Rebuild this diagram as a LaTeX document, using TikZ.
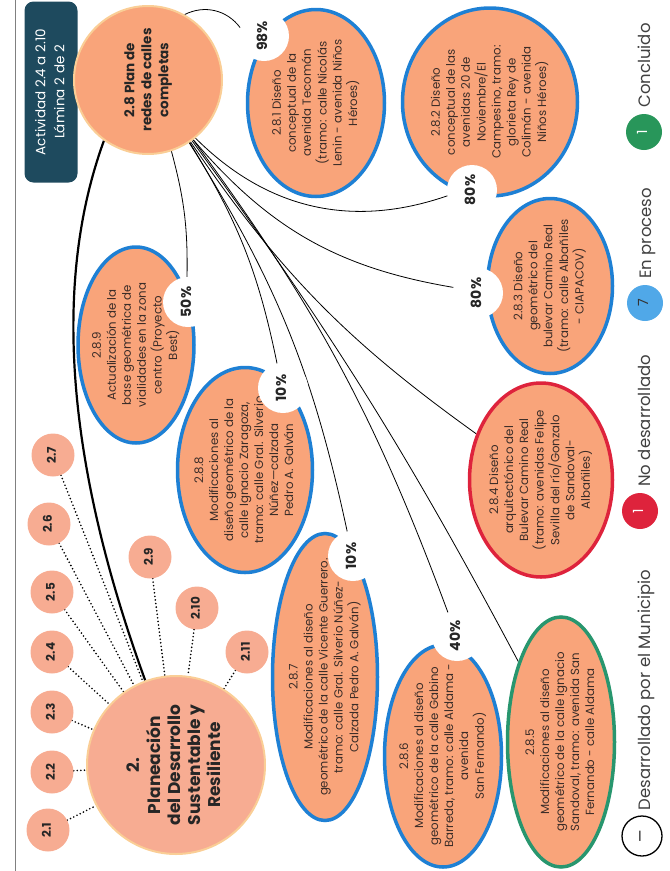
\documentclass[tikz,border=0pt]{standalone}
\usepackage{fontspec}
\setmainfont{Poppins}
\usepackage{graphicx}
\usetikzlibrary{positioning,shapes.geometric,backgrounds}

\definecolor{fillorange}{RGB}{249,164,122}
\definecolor{fillpink}{RGB}{247,172,146}
\definecolor{rimyellow}{RGB}{250,206,150}
\definecolor{rimblue}{RGB}{30,128,212}
\definecolor{rimred}{RGB}{222,35,60}
\definecolor{rimgreen}{RGB}{40,150,110}
\definecolor{boxteal}{RGB}{30,74,94}
\definecolor{legblue}{RGB}{80,168,232}
\definecolor{leggreen}{RGB}{40,150,90}
\definecolor{inkgray}{RGB}{60,45,40}

% rotated, centred block of lines
\newcommand{\rtext}[1]{\rotatebox{90}{\begin{tabular}{@{}c@{}}#1\end{tabular}}}

\tikzset{
  hub/.style={circle, fill=fillorange, draw=rimyellow, line width=2pt, inner sep=0pt, text=black!85},
  subc/.style={circle, fill=fillpink, minimum size=43pt, inner sep=0pt, text=black!85, font=\bfseries\fontsize{12}{14}\selectfont},
  task/.style={ellipse, fill=fillorange, line width=3.5pt, inner sep=0pt},
  tasktext/.style={inner sep=0pt, text=inkgray, font=\fontsize{11.8}{15}\selectfont},
  pct/.style={circle, fill=white, minimum size=50pt, inner sep=0pt, text=black!85, font=\bfseries\fontsize{14}{16}\selectfont},
  link/.style={line width=0.8pt},
  dotline/.style={line width=1.8pt, dash pattern=on 0pt off 3.6pt, line cap=round},
  titlebox/.style={rectangle, rounded corners=9pt, fill=boxteal, text=white, minimum width=53pt, minimum height=181pt, font=\fontsize{13.5}{19}\selectfont},
  legc/.style={circle, minimum size=36pt, inner sep=0pt, font=\fontsize{14}{16}\selectfont},
  legt/.style={inner sep=0pt, text=black!75, font=\fontsize{16.5}{19}\selectfont}
}

\begin{document}
\begin{tikzpicture}[x=1pt, y=1pt]
\useasboundingbox (0,0) rectangle (670,-871);
% page rule
\draw[gray, line width=0.8pt] (15,0) -- (15,-871);

% sheet title
\node[titlebox] (title) at (51,-92) {\rtext{Actividad 2.4 a 2.10\\Lámina 2 de 2}};

% the two hubs
\node[hub, minimum size=148pt, font=\bfseries\fontsize{13.5}{17}\selectfont] (plan) at (148,-80) {\rtext{2.8 Plan de\\redes de calles\\completas}};
\node[hub, minimum size=178pt, fill=fillpink, font=\bfseries\fontsize{17}{20}\selectfont] (dev) at (176,-765) {\rtext{2.\\Planeación\\del Desarrollo\\Sustentable y\\Resiliente}};

% other lines of action
\foreach \n/\x/\y in {1/48/830, 2/52/772, 3/52/712, 4/52/652, 5/52/592, 6/49/524, 7/53/455, 9/150/557, 10/197/608, 11/247/652}
  \node[subc] (s2\n) at (\x,-\y) {\rtext{2.\n}};

% tasks of 2.8
\node[task, draw=rimblue, minimum width=137pt, minimum height=187pt,
  label={[tasktext]center:{\rtext{2.8.1 Diseño\\conceptual de la\\avenida Tecomán\\(tramo: calle Nicolás\\Lenin - avenida Niños\\Héroes)}}}] (e281) at (316,-103) {};
\node[task, draw=rimblue, minimum width=175pt, minimum height=188pt,
  label={[tasktext]center:{\rtext{2.8.2 Diseño\\conceptual de las\\avenidas 20 de\\Noviembre/El\\Campesino, tramo:\\glorieta Rey de\\Colimán - avenida\\Niños Héroes)}}}] (e282) at (490,-102) {};
\node[task, draw=rimblue, minimum width=125pt, minimum height=175pt,
  label={[tasktext]center:{\rtext{2.8.3 Diseño\\geométrico del\\bulevar Camino Real\\(tramo: calle Albañiles\\- CIAPACOV)}}}] (e283) at (550,-286) {};
\node[task, draw=rimred, minimum width=143pt, minimum height=194pt,
  label={[tasktext]center:{\rtext{2.8.4 Diseño\\arquitectónico del\\Bulevar Camino Real\\(tramo: avenidas Felipe\\Sevilla del río/Gonzalo\\de Sandoval-\\Albañiles)}}}] (e284) at (541,-480) {};
\node[task, draw=rimgreen, minimum width=107pt, minimum height=250pt,
  label={[tasktext]center:{\rtext{2.8.5\\Modificaciones al diseño\\geométrico de la calle Ignacio\\Sandoval, tramo: avenida San\\Fernando - calle Aldama}}}] (e285) at (561,-742) {};
\node[task, draw=rimblue, minimum width=117pt, minimum height=222pt,
  label={[tasktext]center:{\rtext{2.8.6\\Modificaciones al diseño\\geométrico de la calle Gabino\\Barreda, tramo: calle Aldama -\\avenida\\San Fernando)}}}] (e286) at (443,-756) {};
\node[task, draw=rimblue, minimum width=105pt, minimum height=287pt,
  label={[tasktext]center:{\rtext{2.8.7\\Modificaciones al diseño\\geométrico de la calle Vicente Guerrero.\\tramo: calle Gral. Silverio Núñez-\\Calzada Pedro A. Galván)}}}] (e287) at (325,-677) {};
\node[task, draw=rimblue, minimum width=135pt, minimum height=205pt,
  label={[tasktext]center:{\rtext{2.8.8\\Modificaciones al\\diseño geométrico de la\\calle Ignacio Zaragoza,\\tramo: calle Gral. Silverio\\Núñez—calzada\\Pedro A. Galván}}}] (e288) at (245,-470) {};
\node[task, draw=rimblue, minimum width=116pt, minimum height=196pt,
  label={[tasktext]center:{\rtext{2.8.9\\Actualización de la\\base geométrica de\\vialidades en la zona\\centro (Proyecto\\Best)}}}] (e289) at (136,-345) {};

% progress marks
\node[pct] (p281) at (264,-36) {\rtext{98\%}};
\node[pct] (p282) at (472,-190) {\rtext{80\%}};
\node[pct] (p283) at (478,-293) {\rtext{80\%}};
\node[pct] (p286) at (457,-636) {\rtext{40\%}};
\node[pct] (p287) at (353,-556) {\rtext{10\%}};
\node[pct] (p288) at (283,-388) {\rtext{10\%}};
\node[pct] (p289) at (188,-302) {\rtext{50\%}};

% legend
\node[legc, draw=black, line width=1.3pt, fill=white, minimum size=40pt] (lg4) at (642,-836) {\rtext{—}};
\node[legc, fill=rimred, text=white] (lg3) at (640,-511) {\rtext{1}};
\node[legc, fill=legblue, text=black!80] (lg2) at (645,-303) {\rtext{7}};
\node[legc, fill=leggreen, text=white] (lg1) at (644,-132) {\rtext{1}};
\node[legt, above=5pt of lg4, xshift=5pt] (lt4) {\rtext{Desarrollado por el Municipio}};
\node[legt, above=6pt of lg3, xshift=7pt] (lt3) {\rtext{No desarrollado}};
\node[legt, above=6pt of lg2, xshift=3pt] (lt2) {\rtext{En proceso}};
\node[legt, above=6pt of lg1, xshift=3pt] (lt1) {\rtext{Concluido}};

% connectors
\begin{scope}[on background layer]
  \foreach \n in {1,...,7,9,10,11}
    \draw[dotline] (s2\n) -- (dev);
  \draw[line width=2.2pt] (plan.234) .. controls +(250:170) and +(110:200) .. (dev.110);
  \draw[link] (plan) to[bend left=40] (p281);
  \draw[link] (plan) to[bend right=32] (p282);
  \draw[link] (plan) to[bend right=20] (p283);
  \draw[link] (plan) to[bend right=10] (e284);
  \draw[link] (plan) to[bend left=4] (e285);
  \draw[link] (plan) to[bend left=8] (p286);
  \draw[link] (plan) to[bend left=10] (p287);
  \draw[link] (plan) to[bend left=10] (p288);
  \draw[link] (plan) to[bend left=8] (p289);
\end{scope}
\end{tikzpicture}
\end{document}
